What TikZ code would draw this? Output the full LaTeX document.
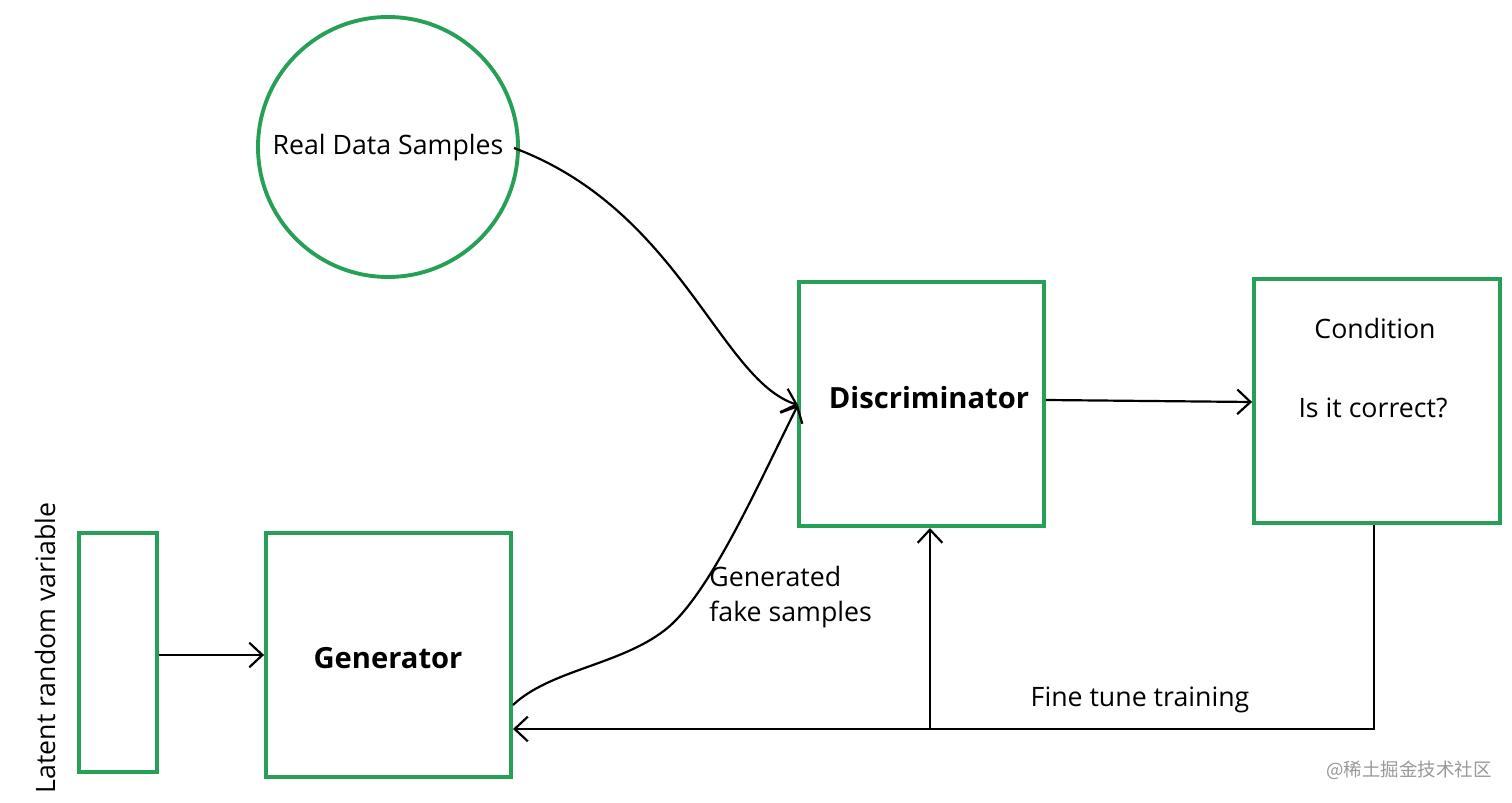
\documentclass[tikz,border=0pt]{standalone}
\usepackage{fontspec}
\setmainfont{Open Sans}
\newfontfamily\cjkfont{Noto Sans CJK SC}
\usetikzlibrary{arrows.meta}
\definecolor{gganGreen}{RGB}{38,160,86}
\begin{document}
\begin{tikzpicture}[x=0.02cm,y=-0.02cm,
  box/.style={draw=gganGreen,line width=2.2pt,inner sep=0pt},
  conn/.style={draw=black,line width=1.25pt,-{Straight Barb[length=7.5pt,width=14pt,line width=1.25pt]}},
  lbl/.style={font=\fontsize{15.2pt}{19pt}\selectfont,inner sep=0pt},
  blbl/.style={font=\fontsize{16.6pt}{20pt}\selectfont\bfseries,inner sep=0pt}]
\useasboundingbox (0,0) rectangle (1512,803);
\fill[white] (0,0) rectangle (1512,803);
% nodes
\node[box,circle,minimum size=260*0.02cm] (real) at (388,147) {};
\node[lbl] (realtxt) at (388,148) {Real Data Samples};
\node[box,minimum width=245*0.02cm,minimum height=244*0.02cm] (disc) at (921.5,404) {};
\node[blbl] (disctxt) at (929,398) {Discriminator};
\node[box,minimum width=246*0.02cm,minimum height=244*0.02cm] (cond) at (1377,401) {};
\node[lbl] (condtxt) at (1375,328) {Condition};
\node[lbl] (corrtxt) at (1373,408) {Is it correct?};
\node[box,minimum width=245*0.02cm,minimum height=244*0.02cm] (gen) at (388.5,655) {};
\node[blbl] (gentxt) at (388,658) {Generator};
\node[box,minimum width=78*0.02cm,minimum height=239*0.02cm] (lat) at (118,652.5) {};
\node[lbl,rotate=90] (lattxt) at (45,648) {Latent random variable};
\node[lbl,anchor=north west,align=left] (fake) at (709,566) {Generated\\[1pt]fake samples};
\node[lbl] (fine) at (1140,700) {Fine tune training};
\node[inner sep=0pt,text=black!40,font=\cjkfont\fontsize{10.5pt}{12pt}\selectfont] (wm) at (1409,770) {@稀土掘金技术社区};
% connectors
\coordinate (rout) at (514,148);
\coordinate (din) at (798,405);
\coordinate (ginR) at (513,705);
\coordinate (gmid) at (665,630);
\coordinate (gfb) at (513,729);
\coordinate (corner) at (1374,729);
\coordinate (branch) at (930,729);
\coordinate (dbot) at (930,528);
\draw[conn] (lat.east |- 0,655) -- (gen.west |- 0,655);
\draw[conn] (rout) .. controls (680,210) and (720,380) .. (din);
\draw[conn] (ginR) .. controls (550,670) and (620,665) .. (gmid)
  .. controls (710,595) and (760,480) .. (din);
\draw[conn] (disc.east |- 0,400) -- (cond.west |- 0,402);
\draw[conn] (cond.south -| corner) -- (corner) -- (gfb);
\draw[conn] (branch) -- (dbot);
\end{tikzpicture}
\end{document}
